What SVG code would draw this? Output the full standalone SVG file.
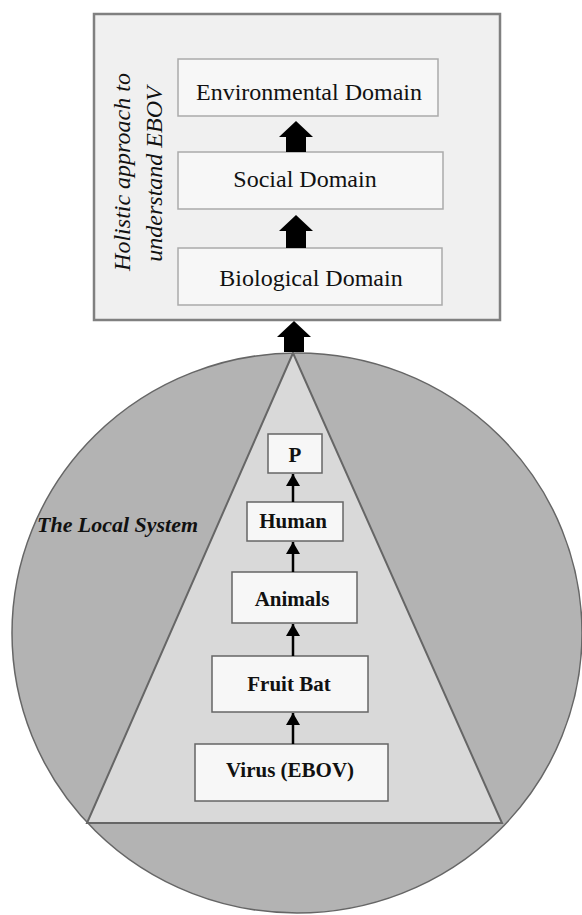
<svg xmlns="http://www.w3.org/2000/svg" width="582" height="915" viewBox="0 0 582 915">
<style>
.dom{fill:#f7f7f7;stroke:#aaaaaa;stroke-width:1.5}
.dt{font-family:"Liberation Serif",serif;font-size:24px;fill:#111;text-anchor:middle}
.sp{fill:#f7f7f7;stroke:#666;stroke-width:1.5}
.st{font-family:"Liberation Serif",serif;font-size:21px;font-weight:bold;fill:#111;text-anchor:middle}
.big{fill:#000}
.ln{stroke:#000;stroke-width:2.5;fill:none}
</style>
<defs>
<marker id="ah" markerWidth="14" markerHeight="14" refX="12" refY="7" orient="auto" markerUnits="userSpaceOnUse">
<path d="M0,0 L12,7 L0,14 Z" fill="#000"/>
</marker>
</defs>
<rect width="582" height="915" fill="#fff"/>
<g id="holistic">
<rect x="94" y="14" width="406" height="306" fill="#f0f0f0" stroke="#808080" stroke-width="2.5"/>
<text class="dt" font-style="italic" transform="translate(130,172) rotate(-90)">Holistic approach to</text>
<text class="dt" font-style="italic" transform="translate(162,174) rotate(-90)">understand EBOV</text>
</g>
<g id="environmental">
<rect class="dom" x="178" y="59" width="260" height="57"/>
<text class="dt" x="309" y="100">Environmental Domain</text>
</g>
<g id="social">
<rect class="dom" x="178" y="152" width="265" height="57"/>
<text class="dt" x="305" y="187">Social Domain</text>
</g>
<g id="biological">
<rect class="dom" x="178" y="248" width="264" height="57"/>
<text class="dt" x="311" y="286">Biological Domain</text>
</g>
<g id="local-system">
<ellipse cx="297" cy="633" rx="285" ry="280" fill="#b3b3b3" stroke="#666" stroke-width="1.5"/>
<polygon points="293,353 87,823 502,823" fill="#d9d9d9" stroke="#666" stroke-width="2"/>
<text x="37" y="532" font-family="'Liberation Serif',serif" font-size="20" font-weight="bold" font-style="italic" fill="#111" textLength="161" lengthAdjust="spacingAndGlyphs">The Local System</text>
</g>
<g id="p">
<rect class="sp" x="268" y="434" width="54" height="39"/>
<text class="st" x="295" y="462">P</text>
</g>
<g id="human">
<rect class="sp" x="247" y="502" width="96" height="39"/>
<text class="st" x="293" y="528">Human</text>
</g>
<g id="animals">
<rect class="sp" x="232" y="572" width="125" height="51"/>
<text class="st" x="292" y="606">Animals</text>
</g>
<g id="fruit-bat">
<rect class="sp" x="212" y="656" width="156" height="56"/>
<text class="st" x="289" y="691">Fruit Bat</text>
</g>
<g id="virus">
<rect class="sp" x="195" y="744" width="193" height="57"/>
<text class="st" x="290" y="777">Virus (EBOV)</text>
</g>
<g id="connectors">
<polygon class="big" points="296,121 313,137 306,137 306,152 286,152 286,137 279,137"/>
<polygon class="big" points="296,215 313,231 306,231 306,248 286,248 286,231 279,231"/>
<polygon class="big" points="294,321 311,337 304,337 304,352 284,352 284,337 277,337"/>
<line class="ln" x1="293" y1="502" x2="293" y2="474" marker-end="url(#ah)"/>
<line class="ln" x1="293" y1="572" x2="293" y2="542" marker-end="url(#ah)"/>
<line class="ln" x1="293" y1="656" x2="293" y2="624" marker-end="url(#ah)"/>
<line class="ln" x1="293" y1="744" x2="293" y2="713" marker-end="url(#ah)"/>
</g>
</svg>
